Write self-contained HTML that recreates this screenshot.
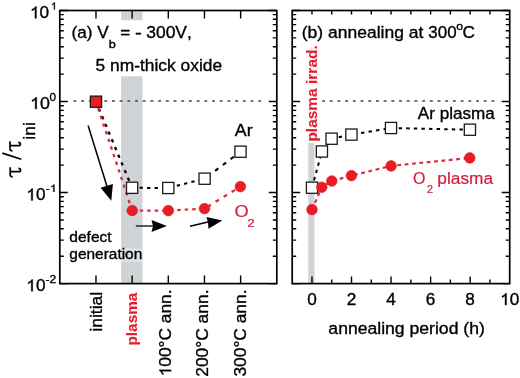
<!DOCTYPE html>
<html><head><meta charset="utf-8"><style>
html,body{margin:0;padding:0;background:#fff;width:520px;height:378px;overflow:hidden}
svg{display:block;will-change:transform}
text{font-family:"Liberation Sans",sans-serif;fill:#000;stroke:#000;stroke-width:0.35;font-kerning:none}
.r{fill:#d0203a;stroke:#d0203a;stroke-width:0.2}
.rb{fill:#e31e2c;stroke:#e31e2c}
.b{stroke-width:0.1;font-weight:bold}
.one{fill:#000;stroke:#000;stroke-width:0.35;vector-effect:non-scaling-stroke}
</style></head><body>
<svg width="520" height="378" viewBox="0 0 520 378">
<rect width="520" height="378" fill="#fff"/>
<rect x="121.1" y="11.5" width="21.4" height="272" fill="#cfd3d6"/>
<rect x="308.3" y="11.5" width="6.2" height="272" fill="#cfd3d6"/>
<rect x="70" y="20.3" width="160" height="56" fill="#fff"/>
<rect x="300" y="11.5" width="22" height="131.5" fill="#fff"/>
<rect x="121" y="248.4" width="20.6" height="13.6" fill="#fff" fill-opacity="0.35"/>
<path d="M73.45 101.1 H264" stroke="#444" stroke-width="1.5" stroke-dasharray="2.9 4.8" fill="none"/>
<path d="M322.05 101.1 H497" stroke="#444" stroke-width="1.5" stroke-dasharray="2.9 4.8" fill="none"/>
<path d="M59.8 10.5h8M276.8 10.5h-8M59.8 74.13h4M276.8 74.13h-4M59.8 58.1h4M276.8 58.1h-4M59.8 46.73h4M276.8 46.73h-4M59.8 37.9h4M276.8 37.9h-4M59.8 30.7h4M276.8 30.7h-4M59.8 24.6h4M276.8 24.6h-4M59.8 19.32h4M276.8 19.32h-4M59.8 14.67h4M276.8 14.67h-4M59.8 101.53h8M276.8 101.53h-8M59.8 165.16h4M276.8 165.16h-4M59.8 149.13h4M276.8 149.13h-4M59.8 137.76h4M276.8 137.76h-4M59.8 128.94h4M276.8 128.94h-4M59.8 121.73h4M276.8 121.73h-4M59.8 115.63h4M276.8 115.63h-4M59.8 110.36h4M276.8 110.36h-4M59.8 105.7h4M276.8 105.7h-4M59.8 192.57h8M276.8 192.57h-8M59.8 256.2h4M276.8 256.2h-4M59.8 240.17h4M276.8 240.17h-4M59.8 228.79h4M276.8 228.79h-4M59.8 219.97h4M276.8 219.97h-4M59.8 212.76h4M276.8 212.76h-4M59.8 206.67h4M276.8 206.67h-4M59.8 201.39h4M276.8 201.39h-4M59.8 196.73h4M276.8 196.73h-4M59.8 283.6h8M276.8 283.6h-8M292.2 10.5h8M509.7 10.5h-8M292.2 74.13h4M509.7 74.13h-4M292.2 58.1h4M509.7 58.1h-4M292.2 46.73h4M509.7 46.73h-4M292.2 37.9h4M509.7 37.9h-4M292.2 30.7h4M509.7 30.7h-4M292.2 24.6h4M509.7 24.6h-4M292.2 19.32h4M509.7 19.32h-4M292.2 14.67h4M509.7 14.67h-4M292.2 101.53h8M509.7 101.53h-8M292.2 165.16h4M509.7 165.16h-4M292.2 149.13h4M509.7 149.13h-4M292.2 137.76h4M509.7 137.76h-4M292.2 128.94h4M509.7 128.94h-4M292.2 121.73h4M509.7 121.73h-4M292.2 115.63h4M509.7 115.63h-4M292.2 110.36h4M509.7 110.36h-4M292.2 105.7h4M509.7 105.7h-4M292.2 192.57h8M509.7 192.57h-8M292.2 256.2h4M509.7 256.2h-4M292.2 240.17h4M509.7 240.17h-4M292.2 228.79h4M509.7 228.79h-4M292.2 219.97h4M509.7 219.97h-4M292.2 212.76h4M509.7 212.76h-4M292.2 206.67h4M509.7 206.67h-4M292.2 201.39h4M509.7 201.39h-4M292.2 196.73h4M509.7 196.73h-4M292.2 283.6h8M509.7 283.6h-8M95.97 283.6v-8M95.97 10.5v8M132.13 283.6v-8M132.13 10.5v8M168.3 283.6v-8M168.3 10.5v8M204.47 283.6v-8M204.47 10.5v8M240.63 283.6v-8M240.63 10.5v8M311.97 283.6v-7M311.97 10.5v4M331.75 283.6v-4M331.75 10.5v4M351.52 283.6v-7M351.52 10.5v4M371.29 283.6v-4M371.29 10.5v4M391.06 283.6v-7M391.06 10.5v4M410.84 283.6v-4M410.84 10.5v4M430.61 283.6v-7M430.61 10.5v4M450.38 283.6v-4M450.38 10.5v4M470.15 283.6v-7M470.15 10.5v4M489.93 283.6v-4M489.93 10.5v4" stroke="#000" stroke-width="1.4" fill="none"/>
<rect x="59.8" y="10.5" width="217" height="273.1" fill="none" stroke="#000" stroke-width="1.7"/>
<rect x="292.2" y="10.5" width="217.5" height="273.1" fill="none" stroke="#000" stroke-width="1.7"/>
<path d="M96 101.7 L132.1 187.8" stroke="#000" stroke-width="2.3" stroke-dasharray="3.3 5.05" stroke-dashoffset="1" fill="none"/>
<path d="M96 101.7 L132.2 210.5" stroke="#e02a3a" stroke-width="2.4" stroke-dasharray="3.3 4.75" stroke-dashoffset="1.16" fill="none"/>
<path d="M132.1 187.8 L168.3 188 L204.6 178.7" stroke="#000" stroke-width="2" stroke-dasharray="3.3 4.2" fill="none"/>
<path d="M132.2 210.5 L168.3 210.6 L204.5 208.6" stroke="#e02a3a" stroke-width="2.2" stroke-dasharray="3.5 4" fill="none"/>
<path d="M204.6 178.7 L240.5 151.7" stroke="#000" stroke-width="2.1" stroke-dasharray="4 5.7" stroke-dashoffset="-3.45" fill="none"/>
<path d="M204.5 208.6 L240.4 186.6" stroke="#e02a3a" stroke-width="2.3" stroke-dasharray="4 5.45" stroke-dashoffset="-3.52" fill="none"/>
<path d="M312 187.7 L321.9 151.5 L331.6 138.7 L351.4 134.6 L391 128 L469.9 129.7" stroke="#000" stroke-width="2" stroke-dasharray="3.4 4.2" fill="none"/>
<path d="M312 209.6 L321.8 187.2 L331.8 181 L351.4 175.6 L391.1 165.9 L469.8 157.9" stroke="#e02a3a" stroke-width="2.2" stroke-dasharray="3.8 3.6" fill="none"/>
<rect x="126.5" y="182.2" width="11.2" height="11.2" fill="#fff" stroke="#1a1a1a" stroke-width="1.3"/>
<rect x="162.7" y="182.4" width="11.2" height="11.2" fill="#fff" stroke="#1a1a1a" stroke-width="1.3"/>
<rect x="199" y="173.1" width="11.2" height="11.2" fill="#fff" stroke="#1a1a1a" stroke-width="1.3"/>
<rect x="234.9" y="146.1" width="11.2" height="11.2" fill="#fff" stroke="#1a1a1a" stroke-width="1.3"/>
<rect x="306.4" y="182.1" width="11.2" height="11.2" fill="#fff" stroke="#1a1a1a" stroke-width="1.3"/>
<rect x="316.3" y="145.9" width="11.2" height="11.2" fill="#fff" stroke="#1a1a1a" stroke-width="1.3"/>
<rect x="326" y="133.1" width="11.2" height="11.2" fill="#fff" stroke="#1a1a1a" stroke-width="1.3"/>
<rect x="345.8" y="129" width="11.2" height="11.2" fill="#fff" stroke="#1a1a1a" stroke-width="1.3"/>
<rect x="385.4" y="122.4" width="11.2" height="11.2" fill="#fff" stroke="#1a1a1a" stroke-width="1.3"/>
<rect x="464.3" y="124.1" width="11.2" height="11.2" fill="#fff" stroke="#1a1a1a" stroke-width="1.3"/>
<circle cx="132.2" cy="210.5" r="5.3" fill="#ec1c24" stroke="#d8141e" stroke-width="0.6"/>
<circle cx="168.3" cy="210.6" r="5.3" fill="#ec1c24" stroke="#d8141e" stroke-width="0.6"/>
<circle cx="204.5" cy="208.6" r="5.3" fill="#ec1c24" stroke="#d8141e" stroke-width="0.6"/>
<circle cx="240.4" cy="186.6" r="5.3" fill="#ec1c24" stroke="#d8141e" stroke-width="0.6"/>
<circle cx="312" cy="209.6" r="5.3" fill="#ec1c24" stroke="#d8141e" stroke-width="0.6"/>
<circle cx="321.8" cy="187.2" r="5.3" fill="#ec1c24" stroke="#d8141e" stroke-width="0.6"/>
<circle cx="331.8" cy="181" r="5.3" fill="#ec1c24" stroke="#d8141e" stroke-width="0.6"/>
<circle cx="351.4" cy="175.6" r="5.3" fill="#ec1c24" stroke="#d8141e" stroke-width="0.6"/>
<circle cx="391.1" cy="165.9" r="5.3" fill="#ec1c24" stroke="#d8141e" stroke-width="0.6"/>
<circle cx="469.8" cy="157.9" r="5.3" fill="#ec1c24" stroke="#d8141e" stroke-width="0.6"/>
<rect x="90.4" y="96.1" width="11.2" height="11.2" fill="#ec1c24" stroke="#1a1a1a" stroke-width="1.3"/>
<path d="M88.1 125.5 L107.5 188" stroke="#000" stroke-width="1.5" fill="none"/>
<path d="M100.6 187.7 L112.9 184.1 L111.3 200.8 Z" fill="#000"/>
<path d="M135.8 226 H153" stroke="#333" stroke-width="1.6" fill="none"/>
<path d="M151.5 220 L166.8 226 L151.5 232.1 L153 226 Z" fill="#000"/>
<path d="M190 226.2 L208 222" stroke="#000" stroke-width="1.6" fill="none"/>
<path d="M206.5 216.9 L222.3 220.4 L208.5 228.8 L208 222.5 Z" fill="#000"/>
<text x="71.43" y="37.6" font-size="17.2" textLength="37.24" lengthAdjust="spacingAndGlyphs">(a) V</text>
<text x="108.88" y="48.3" font-size="10.8" textLength="7.05" lengthAdjust="spacingAndGlyphs">b</text>
<text x="120.37" y="37.6" font-size="17.2" textLength="9.98" lengthAdjust="spacingAndGlyphs">=</text>
<text x="134.99" y="37.6" font-size="17.2" textLength="6.82" lengthAdjust="spacingAndGlyphs">-</text>
<text x="146.23" y="37.6" font-size="17.2" textLength="45.63" lengthAdjust="spacingAndGlyphs">300V,</text>
<text x="95.6" y="70.8" font-size="17.2" textLength="126.47" lengthAdjust="spacingAndGlyphs">5 nm-thick oxide</text>
<text x="234.77" y="135.5" font-size="17.2" textLength="17.83" lengthAdjust="spacingAndGlyphs">Ar</text>
<text x="234.64" y="216.6" font-size="17.2" textLength="14.13" lengthAdjust="spacingAndGlyphs" class="r">O</text>
<text x="247.33" y="227.3" font-size="11.7" textLength="7.45" lengthAdjust="spacingAndGlyphs" class="r">2</text>
<text x="301.81" y="37.8" font-size="17.2" textLength="121.61" lengthAdjust="spacingAndGlyphs">(b) annealing at</text>
<text x="428.36" y="37.8" font-size="17.2" textLength="28.2" lengthAdjust="spacingAndGlyphs">300</text>
<text x="456.38" y="29.5" font-size="11.2" textLength="6.83" lengthAdjust="spacingAndGlyphs">o</text>
<text x="462.43" y="37.8" font-size="17.2" textLength="12.43" lengthAdjust="spacingAndGlyphs">C</text>
<text x="417.77" y="118.7" font-size="17.2" textLength="77.03" lengthAdjust="spacingAndGlyphs">Ar plasma</text>
<text x="413.04" y="183.8" font-size="17.2" textLength="12.42" lengthAdjust="spacingAndGlyphs" class="r">O</text>
<text x="426.73" y="192.7" font-size="11.7" textLength="6.35" lengthAdjust="spacingAndGlyphs" class="r">2</text>
<text x="437.39" y="183.8" font-size="17.2" textLength="55.61" lengthAdjust="spacingAndGlyphs" class="r">plasma</text>
<text x="69.35" y="241.9" font-size="15.1" textLength="42.27" lengthAdjust="spacingAndGlyphs">defect</text>
<text x="69.35" y="258.6" font-size="15.1" textLength="72.95" lengthAdjust="spacingAndGlyphs">generation</text>
<text x="30.03" y="18.3" font-size="17.2" textLength="19.15" lengthAdjust="spacingAndGlyphs"> 0</text><path transform="translate(30.03 18.3) translate(0 0) scale(0.008405 -0.008398)" d="M583 0L763 0L763 1409L646 1409Q600 1320 500 1230Q400 1140 223 1067L223 894Q330 935 420 990Q520 1050 583 1106Z" class="one"/>
<text x="50.99" y="9.6" font-size="10.6" textLength="5.69" lengthAdjust="spacingAndGlyphs"> </text><path transform="translate(50.99 9.6) translate(0 0) scale(0.005000 -0.005176)" d="M583 0L763 0L763 1409L646 1409Q600 1320 500 1230Q400 1140 223 1067L223 894Q330 935 420 990Q520 1050 583 1106Z" class="one"/>
<text x="30.06" y="109" font-size="17.2" textLength="19.84" lengthAdjust="spacingAndGlyphs"> 0</text><path transform="translate(30.06 109) translate(0 0) scale(0.008709 -0.008398)" d="M583 0L763 0L763 1409L646 1409Q600 1320 500 1230Q400 1140 223 1067L223 894Q330 935 420 990Q520 1050 583 1106Z" class="one"/>
<text x="49.54" y="101.2" font-size="11.5" textLength="6.52" lengthAdjust="spacingAndGlyphs">0</text>
<text x="26.33" y="200.4" font-size="17.2" textLength="19.15" lengthAdjust="spacingAndGlyphs"> 0</text><path transform="translate(26.33 200.4) translate(0 0) scale(0.008405 -0.008398)" d="M583 0L763 0L763 1409L646 1409Q600 1320 500 1230Q400 1140 223 1067L223 894Q330 935 420 990Q520 1050 583 1106Z" class="one"/>
<text x="45.86" y="191.9" font-size="10.6" textLength="10.76" lengthAdjust="spacingAndGlyphs">- </text><path transform="translate(45.86 191.9) translate(4.03 0) scale(0.005908 -0.005176)" d="M583 0L763 0L763 1409L646 1409Q600 1320 500 1230Q400 1140 223 1067L223 894Q330 935 420 990Q520 1050 583 1106Z" class="one"/>
<text x="26.33" y="291.3" font-size="17.2" textLength="19.15" lengthAdjust="spacingAndGlyphs"> 0</text><path transform="translate(26.33 291.3) translate(0 0) scale(0.008405 -0.008398)" d="M583 0L763 0L763 1409L646 1409Q600 1320 500 1230Q400 1140 223 1067L223 894Q330 935 420 990Q520 1050 583 1106Z" class="one"/>
<text x="45.46" y="283.1" font-size="10.6" textLength="10.74" lengthAdjust="spacingAndGlyphs">-2</text>
<text x="307.19" y="305" font-size="17.2">0</text>
<text x="346.74" y="305" font-size="17.2">2</text>
<text x="386.28" y="305" font-size="17.2">4</text>
<text x="425.83" y="305" font-size="17.2">6</text>
<text x="465.37" y="305" font-size="17.2">8</text>
<text x="500.13" y="305" font-size="17.2"> 0</text><path transform="translate(500.13 305) translate(0 0) scale(0.008398 -0.008398)" d="M583 0L763 0L763 1409L646 1409Q600 1320 500 1230Q400 1140 223 1067L223 894Q330 935 420 990Q520 1050 583 1106Z" class="one"/>
<text x="328.35" y="333.7" font-size="17.2" textLength="156.49" lengthAdjust="spacingAndGlyphs">annealing period (h)</text>
<text transform="translate(101.5 331.67) rotate(-90)" font-size="17.2" textLength="39.84" lengthAdjust="spacingAndGlyphs">initial</text>
<text transform="translate(136.9 345.51) rotate(-90)" font-size="14.8" textLength="52.81" lengthAdjust="spacingAndGlyphs" class="rb b">plasma</text>
<text transform="translate(171.2 376.28) rotate(-90)" font-size="17.2" textLength="86.76" lengthAdjust="spacingAndGlyphs"> 00°C ann.</text><path transform="translate(171.2 376.28) rotate(-90) translate(0 0) scale(0.008448 -0.008398)" d="M583 0L763 0L763 1409L646 1409Q600 1320 500 1230Q400 1140 223 1067L223 894Q330 935 420 990Q520 1050 583 1106Z" class="one"/>
<text transform="translate(207.8 376.78) rotate(-90)" font-size="17.2" textLength="87.26" lengthAdjust="spacingAndGlyphs">200°C ann.</text>
<text transform="translate(246.1 376.56) rotate(-90)" font-size="17.2" textLength="87.05" lengthAdjust="spacingAndGlyphs">300°C ann.</text>
<text transform="translate(317.1 141.62) rotate(-90)" font-size="14.8" textLength="96.39" lengthAdjust="spacingAndGlyphs" class="rb b">plasma irrad.</text>
<text transform="translate(35 139.67) rotate(-90)" font-size="17" textLength="17.44" lengthAdjust="spacingAndGlyphs">ini</text>
<path transform="translate(21 177) rotate(-90)" d="M0 -8.3 C0.3 -10 1 -10.8 2.3 -10.8 L9.8 -10.8 M5.3 -10.8 V-2.5 Q5.3 -0.4 6.8 -0.4 Q8.6 -0.4 8.7 -2.6" stroke="#000" stroke-width="1.7" fill="none"/>
<path transform="translate(20.8 151) rotate(-90)" d="M0 -8.3 C0.3 -10 1 -10.8 2.3 -10.8 L9.8 -10.8 M5.3 -10.8 V-2.5 Q5.3 -0.4 6.8 -0.4 Q8.6 -0.4 8.7 -2.6" stroke="#000" stroke-width="1.7" fill="none"/>
<line x1="2.3" y1="153.1" x2="21.3" y2="159.2" stroke="#000" stroke-width="1.7"/>
</svg>
</body></html>
